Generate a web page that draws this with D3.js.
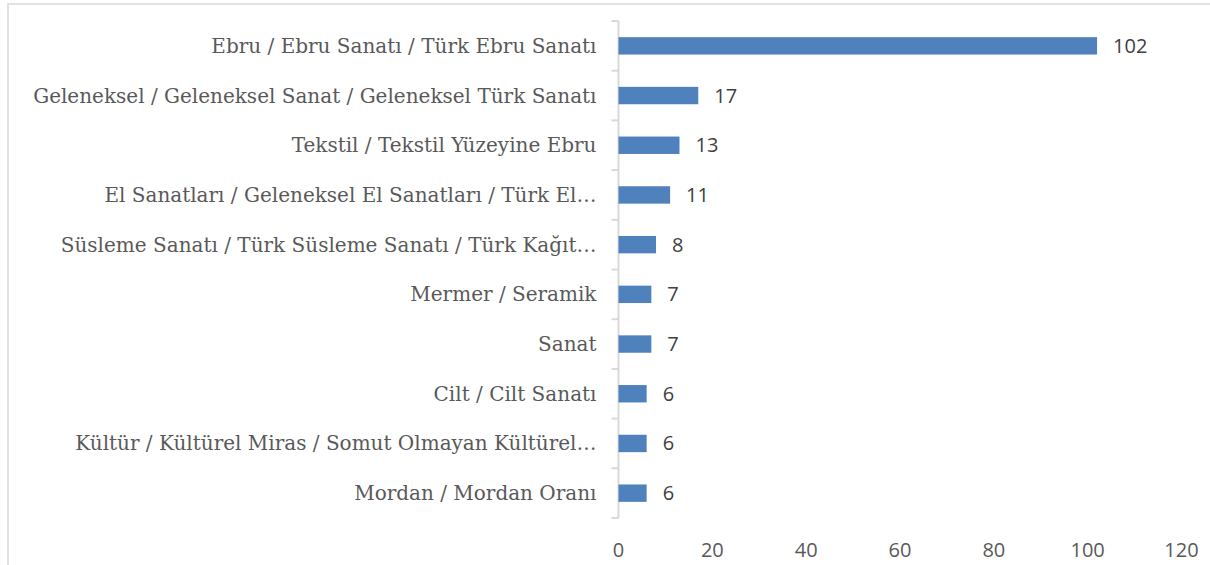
<!DOCTYPE html>
<html>
<head>
<meta charset="utf-8">
<script src="https://cdn.jsdelivr.net/npm/d3@7"></script>
<style>
  body { margin: 0; background: #fff; }
  svg { display: block; }
</style>
</head>
<body>
<svg width="1210" height="565"></svg>
<script>
const categories = [
    "Ebru / Ebru Sanatı / Türk Ebru Sanatı",
    "Geleneksel / Geleneksel Sanat / Geleneksel Türk Sanatı",
    "Tekstil / Tekstil Yüzeyine Ebru",
    "El Sanatları / Geleneksel El Sanatları / Türk El…",
    "Süsleme Sanatı / Türk Süsleme Sanatı / Türk Kağıt…",
    "Mermer / Seramik",
    "Sanat",
    "Cilt / Cilt Sanatı",
    "Kültür / Kültürel Miras / Somut Olmayan Kültürel…",
    "Mordan / Mordan Oranı"
];
const counts = [102, 17, 13, 11, 8, 7, 7, 6, 6, 6];
const xTicks = [0, 20, 40, 60, 80, 100, 120];

const svg = d3.select("svg");

// outer frame (cut off on the right and bottom)
svg.append("rect")
    .attr("x", 8)
    .attr("y", 4)
    .attr("width", 1220)
    .attr("height", 600)
    .attr("fill", "none")
    .attr("stroke", "#d9d9d9")
    .attr("stroke-width", 1.5);

const plotLeft = 618.5, plotRight = 1181.5, plotTop = 21, plotBottom = 518;
const numFont = "'Open Sans', sans-serif";

const x = d3.scaleLinear()
    .domain([0, 120])
    .range([plotLeft, plotRight]);

const y = d3.scaleBand()
    .domain(categories)
    .range([plotTop, plotBottom])
    .paddingInner(0.65)
    .paddingOuter(0.325);

const band = d3.scaleBand().domain(categories).range([plotTop, plotBottom]);

// vertical axis line and ticks at band edges
const edges = categories.map(c => band(c)).concat([plotBottom]);
svg.append("line")
    .attr("x1", plotLeft).attr("x2", plotLeft)
    .attr("y1", plotTop).attr("y2", plotBottom)
    .attr("stroke", "#d9d9d9")
    .attr("stroke-width", 2);

svg.selectAll(".ytick")
    .data(edges)
    .enter()
    .append("line")
    .attr("class", "ytick")
    .attr("x1", plotLeft - 7).attr("x2", plotLeft)
    .attr("y1", d => d).attr("y2", d => d)
    .attr("stroke", "#d9d9d9")
    .attr("stroke-width", 2);

// category labels
svg.selectAll(".cat")
    .data(categories)
    .enter()
    .append("text")
    .attr("class", "cat")
    .attr("x", plotLeft - 22)
    .attr("y", d => band(d) + band.bandwidth() / 2)
    .attr("dy", "0.35em")
    .attr("text-anchor", "end")
    .attr("font-family", "'DejaVu Serif', serif")
    .attr("font-size", "20px")
    .attr("fill", "#595959")
    .text(d => d);

// bars
svg.selectAll(".bar")
    .data(categories)
    .enter()
    .append("rect")
    .attr("class", "bar")
    .attr("x", x(0))
    .attr("y", d => y(d))
    .attr("width", (d, i) => x(counts[i]) - x(0))
    .attr("height", y.bandwidth())
    .attr("fill", "#4f81bd");

// value labels
svg.selectAll(".val")
    .data(categories)
    .enter()
    .append("text")
    .attr("class", "val")
    .attr("x", (d, i) => x(counts[i]) + 16)
    .attr("y", d => band(d) + band.bandwidth() / 2)
    .attr("dy", "0.35em")
    .attr("font-family", numFont)
    .attr("font-size", "20px")
    .attr("fill", "#404040")
    .text((d, i) => counts[i]);

// x tick labels
svg.selectAll(".xt")
    .data(xTicks)
    .enter()
    .append("text")
    .attr("class", "xt")
    .attr("x", d => x(d))
    .attr("y", 550)
    .attr("dy", "0.35em")
    .attr("text-anchor", "middle")
    .attr("font-family", numFont)
    .attr("font-size", "20px")
    .attr("fill", "#595959")
    .text(d => d);
</script>
</body>
</html>
